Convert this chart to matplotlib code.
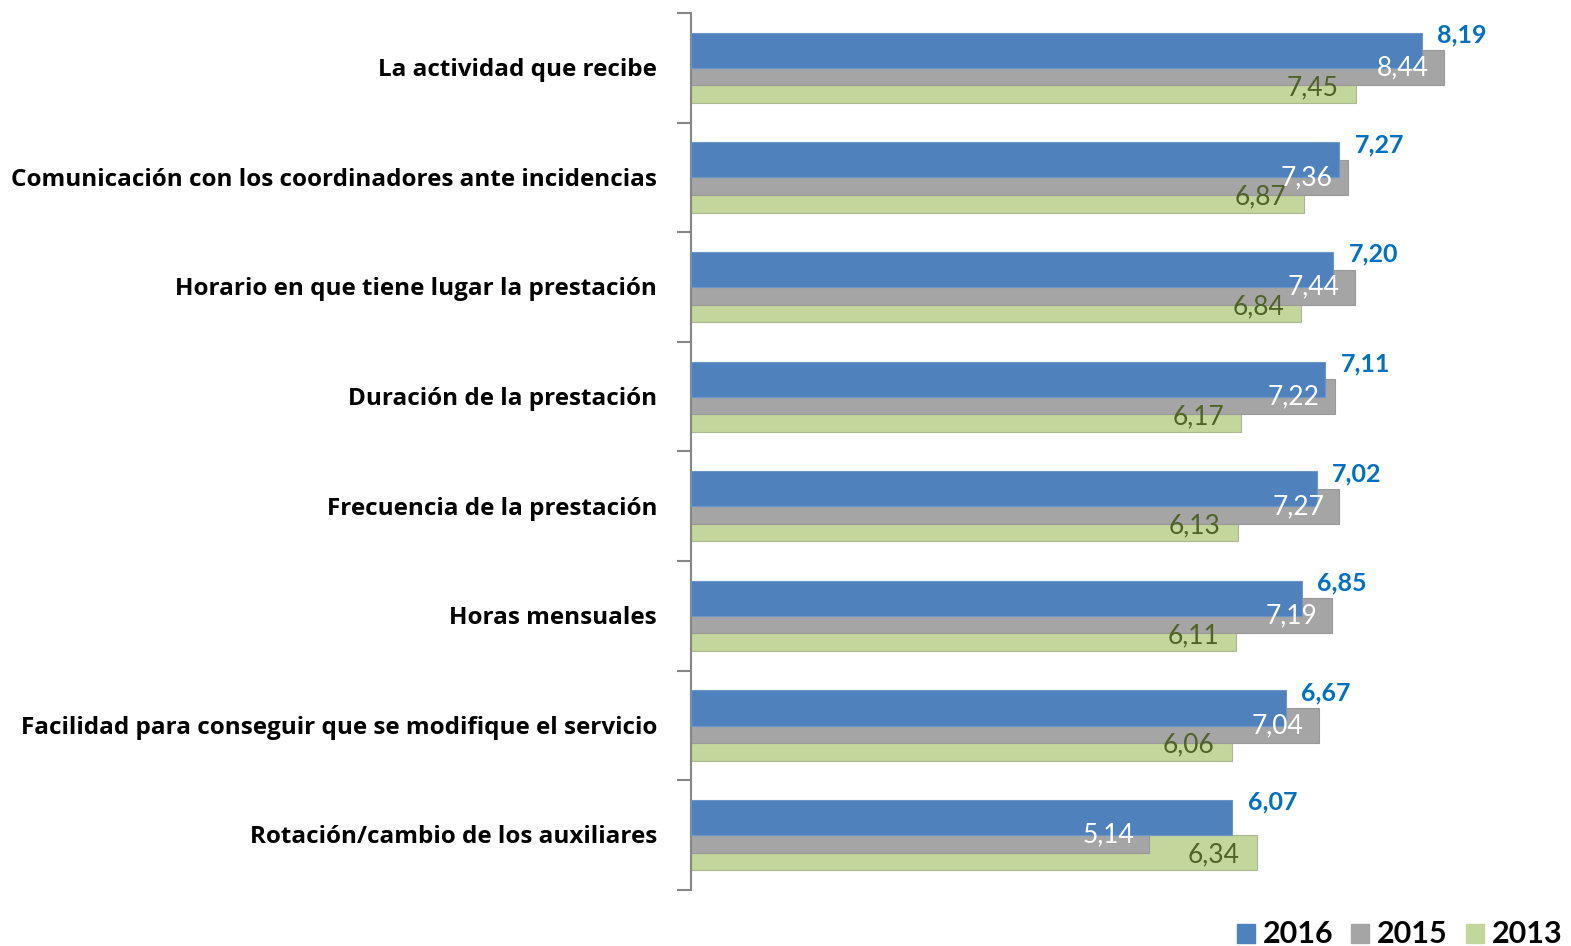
import numpy as np
import matplotlib
matplotlib.use("Agg")
import matplotlib.pyplot as plt
from matplotlib.patches import Rectangle

plt.rcParams['font.family'] = ['Lato', 'DejaVu Sans']

categories = [
    "La actividad que recibe",
    "Comunicación con los coordinadores ante incidencias",
    "Horario en que tiene lugar la prestación",
    "Duración de la prestación",
    "Frecuencia de la prestación",
    "Horas mensuales",
    "Facilidad para conseguir que se modifique el servicio",
    "Rotación/cambio de los auxiliares",
]
years = ["2016", "2015", "2013"]
v2016 = [8.19, 7.27, 7.20, 7.11, 7.02, 6.85, 6.67, 6.07]
v2015 = [8.44, 7.36, 7.44, 7.22, 7.27, 7.19, 7.04, 5.14]
v2013 = [7.45, 6.87, 6.84, 6.17, 6.13, 6.11, 6.06, 6.34]

c_blue = "#4F81BD"
c_gray = "#A5A5A5"
c_green = "#C3D69B"


def fmt(v):
    return f"{v:.2f}".replace(".", ",")


fig = plt.figure(figsize=(15.71, 9.46), dpi=100)
ax = fig.add_axes([691 / 1571, 1 - 890 / 946, 1 - 691 / 1571, 877 / 946])

y = np.arange(len(categories))
h = 0.32
off = 0.16

# drawn back to front: green, gray, blue
ax.barh(y + off, v2013, height=h, color=c_green, edgecolor="#a9b893", linewidth=0.8, zorder=1)
ax.barh(y, v2015, height=h, color=c_gray, edgecolor="#999999", linewidth=0.8, zorder=2)
ax.barh(y - off, v2016, height=h, color=c_blue, edgecolor="#6d96c8", linewidth=0.8, zorder=3)

for i in range(len(categories)):
    ax.text(v2016[i] + 0.17, y[i] - off - 0.14, fmt(v2016[i]), color="#0070C0",
            fontsize=18, fontweight="bold", va="center", ha="left", zorder=5)
    ax.text(v2015[i] - 0.17, y[i], fmt(v2015[i]), color="white",
            fontsize=19, va="center", ha="right", zorder=5)
    ax.text(v2013[i] - 0.19, y[i] + off + 0.02, fmt(v2013[i]), color="#4F6228",
            fontsize=19, va="center", ha="right", zorder=4)
    ax.text(-0.38, y[i] + 0.02, categories[i], fontsize=17.5, fontweight="bold",
            family=["Open Sans", "DejaVu Sans"],
            ha="right", va="center", color="black")

ax.set_xlim(0, 880 / 89.2)
ax.set_ylim(len(categories) - 0.5, -0.5)
ax.set_xticks([])
ax.set_yticks(np.arange(-0.5, len(categories)), labels=[""] * (len(categories) + 1))
ax.tick_params(axis="y", length=10, width=1.5, color="#868686")
for s in ["top", "right", "bottom"]:
    ax.spines[s].set_visible(False)
ax.spines["left"].set_color("#868686")
ax.spines["left"].set_linewidth(1.5)

# legend
lx = [1237, 1351, 1466]
cols = [c_blue, c_gray, c_green]
for x0, c, lab in zip(lx, cols, years):
    fig.patches.append(Rectangle((x0 / 1571, 1 - 943 / 946), 18 / 1571, 19 / 946,
                                 transform=fig.transFigure, color=c, figure=fig))
    fig.text((x0 + 26) / 1571, 1 - 934 / 946, lab, fontsize=22, fontweight="bold",
             va="center", ha="left")

fig.savefig("out.png", dpi=100)
